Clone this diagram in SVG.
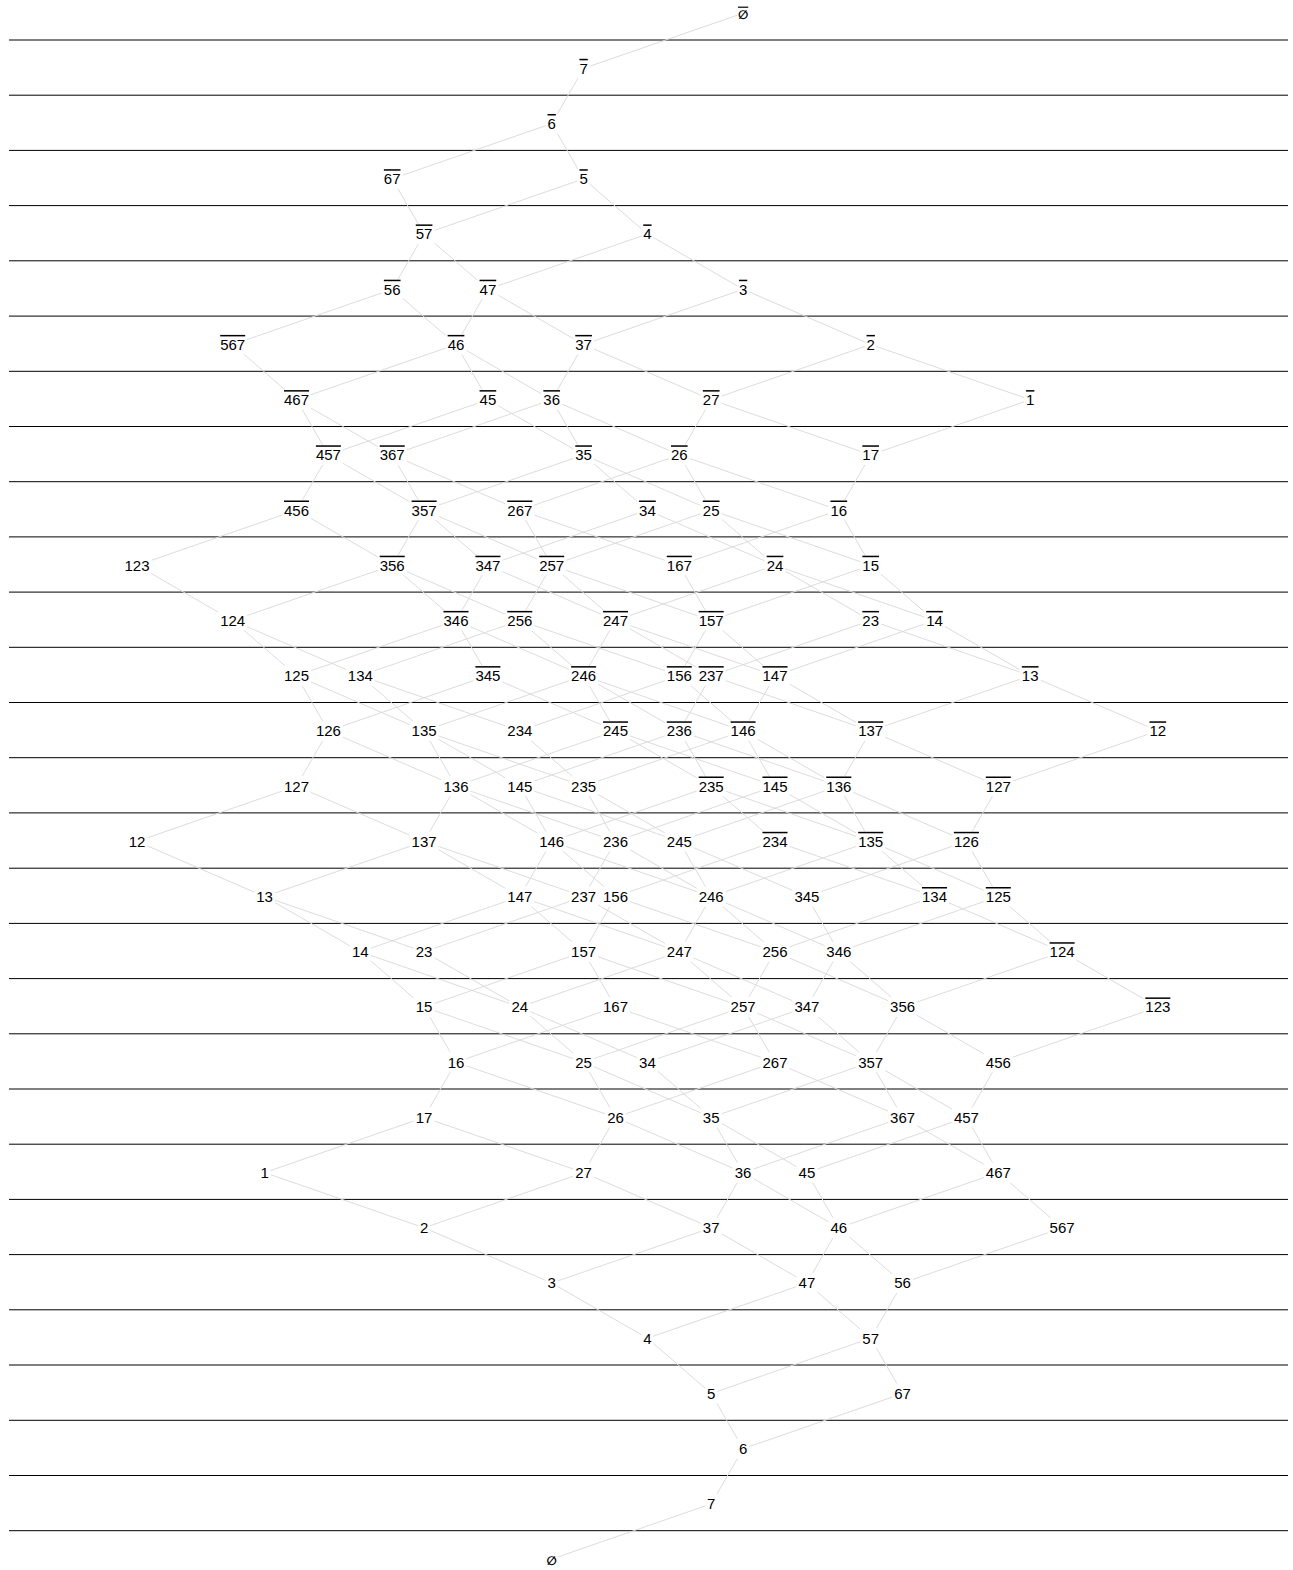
<svg xmlns="http://www.w3.org/2000/svg" width="1293" height="1570" viewBox="0 0 1293 1570">
<style>
.sep{stroke:#000;stroke-width:1;fill:none}
.e path{stroke:#dcdcdc;stroke-width:1;fill:none}
.n rect{fill:#fff}
.n text{font-family:"Liberation Sans",Arial,sans-serif;font-size:15px;text-anchor:middle;fill:#000}
.b text{text-decoration:overline}
.n text.z{font-family:"DejaVu Sans",sans-serif;font-size:12px;font-weight:bold}
</style>
<rect width="1293" height="1570" fill="#fff"/>
<g id="rows">
<path class="sep" d="M9 40H1288M9 95.2H1288M9 150.4H1288M9 205.6H1288M9 260.8H1288M9 316.1H1288M9 371.3H1288M9 426.5H1288M9 481.7H1288M9 536.9H1288M9 592.1H1288M9 647.3H1288M9 702.5H1288M9 757.7H1288M9 812.9H1288M9 868.2H1288M9 923.4H1288M9 978.6H1288M9 1033.8H1288M9 1089H1288M9 1144.2H1288M9 1199.4H1288M9 1254.6H1288M9 1309.8H1288M9 1365H1288M9 1420.3H1288M9 1475.5H1288M9 1530.7H1288"/>
</g>
<g id="connectors" class="e">
<path d="M551.7 1559.1L711.2 1503.9"/>
<path d="M711.2 1503.9L743.1 1448.7"/>
<path d="M743.1 1448.7L711.2 1393.5"/>
<path d="M743.1 1448.7L902.6 1393.5"/>
<path d="M711.2 1393.5L647.4 1338.2"/>
<path d="M711.2 1393.5L870.7 1338.2"/>
<path d="M902.6 1393.5L870.7 1338.2"/>
<path d="M647.4 1338.2L551.7 1283"/>
<path d="M647.4 1338.2L806.9 1283"/>
<path d="M870.7 1338.2L806.9 1283"/>
<path d="M870.7 1338.2L902.6 1283"/>
<path d="M551.7 1283L424.1 1227.8"/>
<path d="M551.7 1283L711.2 1227.8"/>
<path d="M806.9 1283L711.2 1227.8"/>
<path d="M806.9 1283L838.8 1227.8"/>
<path d="M902.6 1283L838.8 1227.8"/>
<path d="M902.6 1283L1062.1 1227.8"/>
<path d="M424.1 1227.8L264.6 1172.6"/>
<path d="M424.1 1227.8L583.6 1172.6"/>
<path d="M711.2 1227.8L583.6 1172.6"/>
<path d="M711.2 1227.8L743.1 1172.6"/>
<path d="M838.8 1227.8L743.1 1172.6"/>
<path d="M838.8 1227.8L806.9 1172.6"/>
<path d="M838.8 1227.8L998.3 1172.6"/>
<path d="M1062.1 1227.8L998.3 1172.6"/>
<path d="M264.6 1172.6L424.1 1117.4"/>
<path d="M583.6 1172.6L424.1 1117.4"/>
<path d="M583.6 1172.6L615.5 1117.4"/>
<path d="M743.1 1172.6L615.5 1117.4"/>
<path d="M743.1 1172.6L711.2 1117.4"/>
<path d="M743.1 1172.6L902.6 1117.4"/>
<path d="M806.9 1172.6L711.2 1117.4"/>
<path d="M806.9 1172.6L966.4 1117.4"/>
<path d="M998.3 1172.6L902.6 1117.4"/>
<path d="M998.3 1172.6L966.4 1117.4"/>
<path d="M424.1 1117.4L456 1062.2"/>
<path d="M615.5 1117.4L456 1062.2"/>
<path d="M615.5 1117.4L583.6 1062.2"/>
<path d="M615.5 1117.4L775 1062.2"/>
<path d="M711.2 1117.4L583.6 1062.2"/>
<path d="M711.2 1117.4L647.4 1062.2"/>
<path d="M711.2 1117.4L870.7 1062.2"/>
<path d="M902.6 1117.4L775 1062.2"/>
<path d="M902.6 1117.4L870.7 1062.2"/>
<path d="M966.4 1117.4L870.7 1062.2"/>
<path d="M966.4 1117.4L998.3 1062.2"/>
<path d="M456 1062.2L424.1 1007"/>
<path d="M456 1062.2L615.5 1007"/>
<path d="M583.6 1062.2L424.1 1007"/>
<path d="M583.6 1062.2L519.8 1007"/>
<path d="M583.6 1062.2L743.1 1007"/>
<path d="M647.4 1062.2L519.8 1007"/>
<path d="M647.4 1062.2L806.9 1007"/>
<path d="M775 1062.2L615.5 1007"/>
<path d="M775 1062.2L743.1 1007"/>
<path d="M870.7 1062.2L743.1 1007"/>
<path d="M870.7 1062.2L806.9 1007"/>
<path d="M870.7 1062.2L902.6 1007"/>
<path d="M998.3 1062.2L902.6 1007"/>
<path d="M424.1 1007L360.3 951.8"/>
<path d="M424.1 1007L583.6 951.8"/>
<path d="M519.8 1007L360.3 951.8"/>
<path d="M519.8 1007L424.1 951.8"/>
<path d="M519.8 1007L679.3 951.8"/>
<path d="M615.5 1007L583.6 951.8"/>
<path d="M743.1 1007L583.6 951.8"/>
<path d="M743.1 1007L679.3 951.8"/>
<path d="M743.1 1007L775 951.8"/>
<path d="M806.9 1007L679.3 951.8"/>
<path d="M806.9 1007L838.8 951.8"/>
<path d="M902.6 1007L775 951.8"/>
<path d="M902.6 1007L838.8 951.8"/>
<path d="M360.3 951.8L264.6 896.6"/>
<path d="M360.3 951.8L519.8 896.6"/>
<path d="M424.1 951.8L264.6 896.6"/>
<path d="M424.1 951.8L583.6 896.6"/>
<path d="M583.6 951.8L519.8 896.6"/>
<path d="M583.6 951.8L615.5 896.6"/>
<path d="M679.3 951.8L519.8 896.6"/>
<path d="M679.3 951.8L583.6 896.6"/>
<path d="M679.3 951.8L711.2 896.6"/>
<path d="M775 951.8L615.5 896.6"/>
<path d="M775 951.8L711.2 896.6"/>
<path d="M838.8 951.8L711.2 896.6"/>
<path d="M838.8 951.8L806.9 896.6"/>
<path d="M264.6 896.6L137 841.4"/>
<path d="M264.6 896.6L424.1 841.4"/>
<path d="M519.8 896.6L424.1 841.4"/>
<path d="M519.8 896.6L551.7 841.4"/>
<path d="M583.6 896.6L424.1 841.4"/>
<path d="M583.6 896.6L615.5 841.4"/>
<path d="M615.5 896.6L551.7 841.4"/>
<path d="M711.2 896.6L551.7 841.4"/>
<path d="M711.2 896.6L615.5 841.4"/>
<path d="M711.2 896.6L679.3 841.4"/>
<path d="M806.9 896.6L679.3 841.4"/>
<path d="M137 841.4L296.5 786.1"/>
<path d="M424.1 841.4L296.5 786.1"/>
<path d="M424.1 841.4L456 786.1"/>
<path d="M551.7 841.4L456 786.1"/>
<path d="M551.7 841.4L519.8 786.1"/>
<path d="M615.5 841.4L456 786.1"/>
<path d="M615.5 841.4L583.6 786.1"/>
<path d="M679.3 841.4L519.8 786.1"/>
<path d="M679.3 841.4L583.6 786.1"/>
<path d="M296.5 786.1L328.4 730.9"/>
<path d="M456 786.1L328.4 730.9"/>
<path d="M456 786.1L424.1 730.9"/>
<path d="M519.8 786.1L424.1 730.9"/>
<path d="M583.6 786.1L424.1 730.9"/>
<path d="M583.6 786.1L519.8 730.9"/>
<path d="M328.4 730.9L296.5 675.7"/>
<path d="M424.1 730.9L296.5 675.7"/>
<path d="M424.1 730.9L360.3 675.7"/>
<path d="M519.8 730.9L360.3 675.7"/>
<path d="M296.5 675.7L232.7 620.5"/>
<path d="M360.3 675.7L232.7 620.5"/>
<path d="M232.7 620.5L137 565.3"/>
<path d="M998.3 1062.2L1157.8 1007"/>
<path d="M902.6 1007L1062.1 951.8"/>
<path d="M775 951.8L934.5 896.6"/>
<path d="M838.8 951.8L998.3 896.6"/>
<path d="M615.5 896.6L775 841.4"/>
<path d="M711.2 896.6L870.7 841.4"/>
<path d="M806.9 896.6L966.4 841.4"/>
<path d="M551.7 841.4L711.2 786.1"/>
<path d="M615.5 841.4L775 786.1"/>
<path d="M679.3 841.4L838.8 786.1"/>
<path d="M456 786.1L615.5 730.9"/>
<path d="M519.8 786.1L679.3 730.9"/>
<path d="M583.6 786.1L743.1 730.9"/>
<path d="M328.4 730.9L487.9 675.7"/>
<path d="M424.1 730.9L583.6 675.7"/>
<path d="M519.8 730.9L679.3 675.7"/>
<path d="M296.5 675.7L456 620.5"/>
<path d="M360.3 675.7L519.8 620.5"/>
<path d="M232.7 620.5L392.2 565.3"/>
<path d="M137 565.3L296.5 510.1"/>
<path d="M743.1 13.2L583.6 68.4"/>
<path d="M583.6 68.4L551.7 123.6"/>
<path d="M551.7 123.6L583.6 178.8"/>
<path d="M551.7 123.6L392.2 178.8"/>
<path d="M583.6 178.8L647.4 234"/>
<path d="M583.6 178.8L424.1 234"/>
<path d="M392.2 178.8L424.1 234"/>
<path d="M647.4 234L743.1 289.3"/>
<path d="M647.4 234L487.9 289.3"/>
<path d="M424.1 234L487.9 289.3"/>
<path d="M424.1 234L392.2 289.3"/>
<path d="M743.1 289.3L870.7 344.5"/>
<path d="M743.1 289.3L583.6 344.5"/>
<path d="M487.9 289.3L583.6 344.5"/>
<path d="M487.9 289.3L456 344.5"/>
<path d="M392.2 289.3L456 344.5"/>
<path d="M392.2 289.3L232.7 344.5"/>
<path d="M870.7 344.5L1030.2 399.7"/>
<path d="M870.7 344.5L711.2 399.7"/>
<path d="M583.6 344.5L711.2 399.7"/>
<path d="M583.6 344.5L551.7 399.7"/>
<path d="M456 344.5L551.7 399.7"/>
<path d="M456 344.5L487.9 399.7"/>
<path d="M456 344.5L296.5 399.7"/>
<path d="M232.7 344.5L296.5 399.7"/>
<path d="M1030.2 399.7L870.7 454.9"/>
<path d="M711.2 399.7L870.7 454.9"/>
<path d="M711.2 399.7L679.3 454.9"/>
<path d="M551.7 399.7L679.3 454.9"/>
<path d="M551.7 399.7L583.6 454.9"/>
<path d="M551.7 399.7L392.2 454.9"/>
<path d="M487.9 399.7L583.6 454.9"/>
<path d="M487.9 399.7L328.4 454.9"/>
<path d="M296.5 399.7L392.2 454.9"/>
<path d="M296.5 399.7L328.4 454.9"/>
<path d="M870.7 454.9L838.8 510.1"/>
<path d="M679.3 454.9L838.8 510.1"/>
<path d="M679.3 454.9L711.2 510.1"/>
<path d="M679.3 454.9L519.8 510.1"/>
<path d="M583.6 454.9L711.2 510.1"/>
<path d="M583.6 454.9L647.4 510.1"/>
<path d="M583.6 454.9L424.1 510.1"/>
<path d="M392.2 454.9L519.8 510.1"/>
<path d="M392.2 454.9L424.1 510.1"/>
<path d="M328.4 454.9L424.1 510.1"/>
<path d="M328.4 454.9L296.5 510.1"/>
<path d="M838.8 510.1L870.7 565.3"/>
<path d="M838.8 510.1L679.3 565.3"/>
<path d="M711.2 510.1L870.7 565.3"/>
<path d="M711.2 510.1L775 565.3"/>
<path d="M711.2 510.1L551.7 565.3"/>
<path d="M647.4 510.1L775 565.3"/>
<path d="M647.4 510.1L487.9 565.3"/>
<path d="M519.8 510.1L679.3 565.3"/>
<path d="M519.8 510.1L551.7 565.3"/>
<path d="M424.1 510.1L551.7 565.3"/>
<path d="M424.1 510.1L487.9 565.3"/>
<path d="M424.1 510.1L392.2 565.3"/>
<path d="M296.5 510.1L392.2 565.3"/>
<path d="M870.7 565.3L934.5 620.5"/>
<path d="M870.7 565.3L711.2 620.5"/>
<path d="M775 565.3L934.5 620.5"/>
<path d="M775 565.3L870.7 620.5"/>
<path d="M775 565.3L615.5 620.5"/>
<path d="M679.3 565.3L711.2 620.5"/>
<path d="M551.7 565.3L711.2 620.5"/>
<path d="M551.7 565.3L615.5 620.5"/>
<path d="M551.7 565.3L519.8 620.5"/>
<path d="M487.9 565.3L615.5 620.5"/>
<path d="M487.9 565.3L456 620.5"/>
<path d="M392.2 565.3L519.8 620.5"/>
<path d="M392.2 565.3L456 620.5"/>
<path d="M934.5 620.5L1030.2 675.7"/>
<path d="M934.5 620.5L775 675.7"/>
<path d="M870.7 620.5L1030.2 675.7"/>
<path d="M870.7 620.5L711.2 675.7"/>
<path d="M711.2 620.5L775 675.7"/>
<path d="M711.2 620.5L679.3 675.7"/>
<path d="M615.5 620.5L775 675.7"/>
<path d="M615.5 620.5L711.2 675.7"/>
<path d="M615.5 620.5L583.6 675.7"/>
<path d="M519.8 620.5L679.3 675.7"/>
<path d="M519.8 620.5L583.6 675.7"/>
<path d="M456 620.5L583.6 675.7"/>
<path d="M456 620.5L487.9 675.7"/>
<path d="M1030.2 675.7L1157.8 730.9"/>
<path d="M1030.2 675.7L870.7 730.9"/>
<path d="M775 675.7L870.7 730.9"/>
<path d="M775 675.7L743.1 730.9"/>
<path d="M711.2 675.7L870.7 730.9"/>
<path d="M711.2 675.7L679.3 730.9"/>
<path d="M679.3 675.7L743.1 730.9"/>
<path d="M583.6 675.7L743.1 730.9"/>
<path d="M583.6 675.7L679.3 730.9"/>
<path d="M583.6 675.7L615.5 730.9"/>
<path d="M487.9 675.7L615.5 730.9"/>
<path d="M1157.8 730.9L998.3 786.1"/>
<path d="M870.7 730.9L998.3 786.1"/>
<path d="M870.7 730.9L838.8 786.1"/>
<path d="M743.1 730.9L838.8 786.1"/>
<path d="M743.1 730.9L775 786.1"/>
<path d="M679.3 730.9L838.8 786.1"/>
<path d="M679.3 730.9L711.2 786.1"/>
<path d="M615.5 730.9L775 786.1"/>
<path d="M615.5 730.9L711.2 786.1"/>
<path d="M998.3 786.1L966.4 841.4"/>
<path d="M838.8 786.1L966.4 841.4"/>
<path d="M838.8 786.1L870.7 841.4"/>
<path d="M775 786.1L870.7 841.4"/>
<path d="M711.2 786.1L870.7 841.4"/>
<path d="M711.2 786.1L775 841.4"/>
<path d="M966.4 841.4L998.3 896.6"/>
<path d="M870.7 841.4L998.3 896.6"/>
<path d="M870.7 841.4L934.5 896.6"/>
<path d="M775 841.4L934.5 896.6"/>
<path d="M998.3 896.6L1062.1 951.8"/>
<path d="M934.5 896.6L1062.1 951.8"/>
<path d="M1062.1 951.8L1157.8 1007"/>
</g>
<g id="nodes">
<g id="n-empty" class="n" transform="translate(551.7 1559.1)"><rect x="-6" y="-10" width="12" height="20"/><text class="z" y="5.4">∅</text></g>
<g id="n-7" class="n" transform="translate(711.2 1503.9)"><rect x="-6" y="-10" width="12" height="20"/><text y="5.4">7</text></g>
<g id="n-6" class="n" transform="translate(743.1 1448.7)"><rect x="-6" y="-10" width="12" height="20"/><text y="5.4">6</text></g>
<g id="n-5" class="n" transform="translate(711.2 1393.5)"><rect x="-6" y="-10" width="12" height="20"/><text y="5.4">5</text></g>
<g id="n-67" class="n" transform="translate(902.6 1393.5)"><rect x="-10.5" y="-10" width="21" height="20"/><text y="5.4">67</text></g>
<g id="n-4" class="n" transform="translate(647.4 1338.2)"><rect x="-6" y="-10" width="12" height="20"/><text y="5.4">4</text></g>
<g id="n-57" class="n" transform="translate(870.7 1338.2)"><rect x="-10.5" y="-10" width="21" height="20"/><text y="5.4">57</text></g>
<g id="n-3" class="n" transform="translate(551.7 1283)"><rect x="-6" y="-10" width="12" height="20"/><text y="5.4">3</text></g>
<g id="n-47" class="n" transform="translate(806.9 1283)"><rect x="-10.5" y="-10" width="21" height="20"/><text y="5.4">47</text></g>
<g id="n-56" class="n" transform="translate(902.6 1283)"><rect x="-10.5" y="-10" width="21" height="20"/><text y="5.4">56</text></g>
<g id="n-2" class="n" transform="translate(424.1 1227.8)"><rect x="-6" y="-10" width="12" height="20"/><text y="5.4">2</text></g>
<g id="n-37" class="n" transform="translate(711.2 1227.8)"><rect x="-10.5" y="-10" width="21" height="20"/><text y="5.4">37</text></g>
<g id="n-46" class="n" transform="translate(838.8 1227.8)"><rect x="-10.5" y="-10" width="21" height="20"/><text y="5.4">46</text></g>
<g id="n-567" class="n" transform="translate(1062.1 1227.8)"><rect x="-14.5" y="-10" width="29" height="20"/><text y="5.4">567</text></g>
<g id="n-1" class="n" transform="translate(264.6 1172.6)"><rect x="-6" y="-10" width="12" height="20"/><text y="5.4">1</text></g>
<g id="n-27" class="n" transform="translate(583.6 1172.6)"><rect x="-10.5" y="-10" width="21" height="20"/><text y="5.4">27</text></g>
<g id="n-36" class="n" transform="translate(743.1 1172.6)"><rect x="-10.5" y="-10" width="21" height="20"/><text y="5.4">36</text></g>
<g id="n-45" class="n" transform="translate(806.9 1172.6)"><rect x="-10.5" y="-10" width="21" height="20"/><text y="5.4">45</text></g>
<g id="n-467" class="n" transform="translate(998.3 1172.6)"><rect x="-14.5" y="-10" width="29" height="20"/><text y="5.4">467</text></g>
<g id="n-17" class="n" transform="translate(424.1 1117.4)"><rect x="-10.5" y="-10" width="21" height="20"/><text y="5.4">17</text></g>
<g id="n-26" class="n" transform="translate(615.5 1117.4)"><rect x="-10.5" y="-10" width="21" height="20"/><text y="5.4">26</text></g>
<g id="n-35" class="n" transform="translate(711.2 1117.4)"><rect x="-10.5" y="-10" width="21" height="20"/><text y="5.4">35</text></g>
<g id="n-367" class="n" transform="translate(902.6 1117.4)"><rect x="-14.5" y="-10" width="29" height="20"/><text y="5.4">367</text></g>
<g id="n-457" class="n" transform="translate(966.4 1117.4)"><rect x="-14.5" y="-10" width="29" height="20"/><text y="5.4">457</text></g>
<g id="n-16" class="n" transform="translate(456 1062.2)"><rect x="-10.5" y="-10" width="21" height="20"/><text y="5.4">16</text></g>
<g id="n-25" class="n" transform="translate(583.6 1062.2)"><rect x="-10.5" y="-10" width="21" height="20"/><text y="5.4">25</text></g>
<g id="n-34" class="n" transform="translate(647.4 1062.2)"><rect x="-10.5" y="-10" width="21" height="20"/><text y="5.4">34</text></g>
<g id="n-267" class="n" transform="translate(775 1062.2)"><rect x="-14.5" y="-10" width="29" height="20"/><text y="5.4">267</text></g>
<g id="n-357" class="n" transform="translate(870.7 1062.2)"><rect x="-14.5" y="-10" width="29" height="20"/><text y="5.4">357</text></g>
<g id="n-456" class="n" transform="translate(998.3 1062.2)"><rect x="-14.5" y="-10" width="29" height="20"/><text y="5.4">456</text></g>
<g id="n-15" class="n" transform="translate(424.1 1007)"><rect x="-10.5" y="-10" width="21" height="20"/><text y="5.4">15</text></g>
<g id="n-24" class="n" transform="translate(519.8 1007)"><rect x="-10.5" y="-10" width="21" height="20"/><text y="5.4">24</text></g>
<g id="n-167" class="n" transform="translate(615.5 1007)"><rect x="-14.5" y="-10" width="29" height="20"/><text y="5.4">167</text></g>
<g id="n-257" class="n" transform="translate(743.1 1007)"><rect x="-14.5" y="-10" width="29" height="20"/><text y="5.4">257</text></g>
<g id="n-347" class="n" transform="translate(806.9 1007)"><rect x="-14.5" y="-10" width="29" height="20"/><text y="5.4">347</text></g>
<g id="n-356" class="n" transform="translate(902.6 1007)"><rect x="-14.5" y="-10" width="29" height="20"/><text y="5.4">356</text></g>
<g id="n-14" class="n" transform="translate(360.3 951.8)"><rect x="-10.5" y="-10" width="21" height="20"/><text y="5.4">14</text></g>
<g id="n-23" class="n" transform="translate(424.1 951.8)"><rect x="-10.5" y="-10" width="21" height="20"/><text y="5.4">23</text></g>
<g id="n-157" class="n" transform="translate(583.6 951.8)"><rect x="-14.5" y="-10" width="29" height="20"/><text y="5.4">157</text></g>
<g id="n-247" class="n" transform="translate(679.3 951.8)"><rect x="-14.5" y="-10" width="29" height="20"/><text y="5.4">247</text></g>
<g id="n-256" class="n" transform="translate(775 951.8)"><rect x="-14.5" y="-10" width="29" height="20"/><text y="5.4">256</text></g>
<g id="n-346" class="n" transform="translate(838.8 951.8)"><rect x="-14.5" y="-10" width="29" height="20"/><text y="5.4">346</text></g>
<g id="n-13" class="n" transform="translate(264.6 896.6)"><rect x="-10.5" y="-10" width="21" height="20"/><text y="5.4">13</text></g>
<g id="n-147" class="n" transform="translate(519.8 896.6)"><rect x="-14.5" y="-10" width="29" height="20"/><text y="5.4">147</text></g>
<g id="n-237" class="n" transform="translate(583.6 896.6)"><rect x="-14.5" y="-10" width="29" height="20"/><text y="5.4">237</text></g>
<g id="n-156" class="n" transform="translate(615.5 896.6)"><rect x="-14.5" y="-10" width="29" height="20"/><text y="5.4">156</text></g>
<g id="n-246" class="n" transform="translate(711.2 896.6)"><rect x="-14.5" y="-10" width="29" height="20"/><text y="5.4">246</text></g>
<g id="n-345" class="n" transform="translate(806.9 896.6)"><rect x="-14.5" y="-10" width="29" height="20"/><text y="5.4">345</text></g>
<g id="n-12" class="n" transform="translate(137 841.4)"><rect x="-10.5" y="-10" width="21" height="20"/><text y="5.4">12</text></g>
<g id="n-137" class="n" transform="translate(424.1 841.4)"><rect x="-14.5" y="-10" width="29" height="20"/><text y="5.4">137</text></g>
<g id="n-146" class="n" transform="translate(551.7 841.4)"><rect x="-14.5" y="-10" width="29" height="20"/><text y="5.4">146</text></g>
<g id="n-236" class="n" transform="translate(615.5 841.4)"><rect x="-14.5" y="-10" width="29" height="20"/><text y="5.4">236</text></g>
<g id="n-245" class="n" transform="translate(679.3 841.4)"><rect x="-14.5" y="-10" width="29" height="20"/><text y="5.4">245</text></g>
<g id="n-127" class="n" transform="translate(296.5 786.1)"><rect x="-14.5" y="-10" width="29" height="20"/><text y="5.4">127</text></g>
<g id="n-136" class="n" transform="translate(456 786.1)"><rect x="-14.5" y="-10" width="29" height="20"/><text y="5.4">136</text></g>
<g id="n-145" class="n" transform="translate(519.8 786.1)"><rect x="-14.5" y="-10" width="29" height="20"/><text y="5.4">145</text></g>
<g id="n-235" class="n" transform="translate(583.6 786.1)"><rect x="-14.5" y="-10" width="29" height="20"/><text y="5.4">235</text></g>
<g id="n-126" class="n" transform="translate(328.4 730.9)"><rect x="-14.5" y="-10" width="29" height="20"/><text y="5.4">126</text></g>
<g id="n-135" class="n" transform="translate(424.1 730.9)"><rect x="-14.5" y="-10" width="29" height="20"/><text y="5.4">135</text></g>
<g id="n-234" class="n" transform="translate(519.8 730.9)"><rect x="-14.5" y="-10" width="29" height="20"/><text y="5.4">234</text></g>
<g id="n-125" class="n" transform="translate(296.5 675.7)"><rect x="-14.5" y="-10" width="29" height="20"/><text y="5.4">125</text></g>
<g id="n-134" class="n" transform="translate(360.3 675.7)"><rect x="-14.5" y="-10" width="29" height="20"/><text y="5.4">134</text></g>
<g id="n-124" class="n" transform="translate(232.7 620.5)"><rect x="-14.5" y="-10" width="29" height="20"/><text y="5.4">124</text></g>
<g id="n-123" class="n" transform="translate(137 565.3)"><rect x="-14.5" y="-10" width="29" height="20"/><text y="5.4">123</text></g>
<g id="n-empty-bar" class="n b" transform="translate(743.1 13.2)"><rect x="-6" y="-10" width="12" height="20"/><text class="z" y="5.4">∅</text></g>
<g id="n-7-bar" class="n b" transform="translate(583.6 68.4)"><rect x="-6" y="-10" width="12" height="20"/><text y="5.4">7</text></g>
<g id="n-6-bar" class="n b" transform="translate(551.7 123.6)"><rect x="-6" y="-10" width="12" height="20"/><text y="5.4">6</text></g>
<g id="n-5-bar" class="n b" transform="translate(583.6 178.8)"><rect x="-6" y="-10" width="12" height="20"/><text y="5.4">5</text></g>
<g id="n-67-bar" class="n b" transform="translate(392.2 178.8)"><rect x="-10.5" y="-10" width="21" height="20"/><text y="5.4">67</text></g>
<g id="n-4-bar" class="n b" transform="translate(647.4 234)"><rect x="-6" y="-10" width="12" height="20"/><text y="5.4">4</text></g>
<g id="n-57-bar" class="n b" transform="translate(424.1 234)"><rect x="-10.5" y="-10" width="21" height="20"/><text y="5.4">57</text></g>
<g id="n-3-bar" class="n b" transform="translate(743.1 289.3)"><rect x="-6" y="-10" width="12" height="20"/><text y="5.4">3</text></g>
<g id="n-47-bar" class="n b" transform="translate(487.9 289.3)"><rect x="-10.5" y="-10" width="21" height="20"/><text y="5.4">47</text></g>
<g id="n-56-bar" class="n b" transform="translate(392.2 289.3)"><rect x="-10.5" y="-10" width="21" height="20"/><text y="5.4">56</text></g>
<g id="n-2-bar" class="n b" transform="translate(870.7 344.5)"><rect x="-6" y="-10" width="12" height="20"/><text y="5.4">2</text></g>
<g id="n-37-bar" class="n b" transform="translate(583.6 344.5)"><rect x="-10.5" y="-10" width="21" height="20"/><text y="5.4">37</text></g>
<g id="n-46-bar" class="n b" transform="translate(456 344.5)"><rect x="-10.5" y="-10" width="21" height="20"/><text y="5.4">46</text></g>
<g id="n-567-bar" class="n b" transform="translate(232.7 344.5)"><rect x="-14.5" y="-10" width="29" height="20"/><text y="5.4">567</text></g>
<g id="n-1-bar" class="n b" transform="translate(1030.2 399.7)"><rect x="-6" y="-10" width="12" height="20"/><text y="5.4">1</text></g>
<g id="n-27-bar" class="n b" transform="translate(711.2 399.7)"><rect x="-10.5" y="-10" width="21" height="20"/><text y="5.4">27</text></g>
<g id="n-36-bar" class="n b" transform="translate(551.7 399.7)"><rect x="-10.5" y="-10" width="21" height="20"/><text y="5.4">36</text></g>
<g id="n-45-bar" class="n b" transform="translate(487.9 399.7)"><rect x="-10.5" y="-10" width="21" height="20"/><text y="5.4">45</text></g>
<g id="n-467-bar" class="n b" transform="translate(296.5 399.7)"><rect x="-14.5" y="-10" width="29" height="20"/><text y="5.4">467</text></g>
<g id="n-17-bar" class="n b" transform="translate(870.7 454.9)"><rect x="-10.5" y="-10" width="21" height="20"/><text y="5.4">17</text></g>
<g id="n-26-bar" class="n b" transform="translate(679.3 454.9)"><rect x="-10.5" y="-10" width="21" height="20"/><text y="5.4">26</text></g>
<g id="n-35-bar" class="n b" transform="translate(583.6 454.9)"><rect x="-10.5" y="-10" width="21" height="20"/><text y="5.4">35</text></g>
<g id="n-367-bar" class="n b" transform="translate(392.2 454.9)"><rect x="-14.5" y="-10" width="29" height="20"/><text y="5.4">367</text></g>
<g id="n-457-bar" class="n b" transform="translate(328.4 454.9)"><rect x="-14.5" y="-10" width="29" height="20"/><text y="5.4">457</text></g>
<g id="n-16-bar" class="n b" transform="translate(838.8 510.1)"><rect x="-10.5" y="-10" width="21" height="20"/><text y="5.4">16</text></g>
<g id="n-25-bar" class="n b" transform="translate(711.2 510.1)"><rect x="-10.5" y="-10" width="21" height="20"/><text y="5.4">25</text></g>
<g id="n-34-bar" class="n b" transform="translate(647.4 510.1)"><rect x="-10.5" y="-10" width="21" height="20"/><text y="5.4">34</text></g>
<g id="n-267-bar" class="n b" transform="translate(519.8 510.1)"><rect x="-14.5" y="-10" width="29" height="20"/><text y="5.4">267</text></g>
<g id="n-357-bar" class="n b" transform="translate(424.1 510.1)"><rect x="-14.5" y="-10" width="29" height="20"/><text y="5.4">357</text></g>
<g id="n-456-bar" class="n b" transform="translate(296.5 510.1)"><rect x="-14.5" y="-10" width="29" height="20"/><text y="5.4">456</text></g>
<g id="n-15-bar" class="n b" transform="translate(870.7 565.3)"><rect x="-10.5" y="-10" width="21" height="20"/><text y="5.4">15</text></g>
<g id="n-24-bar" class="n b" transform="translate(775 565.3)"><rect x="-10.5" y="-10" width="21" height="20"/><text y="5.4">24</text></g>
<g id="n-167-bar" class="n b" transform="translate(679.3 565.3)"><rect x="-14.5" y="-10" width="29" height="20"/><text y="5.4">167</text></g>
<g id="n-257-bar" class="n b" transform="translate(551.7 565.3)"><rect x="-14.5" y="-10" width="29" height="20"/><text y="5.4">257</text></g>
<g id="n-347-bar" class="n b" transform="translate(487.9 565.3)"><rect x="-14.5" y="-10" width="29" height="20"/><text y="5.4">347</text></g>
<g id="n-356-bar" class="n b" transform="translate(392.2 565.3)"><rect x="-14.5" y="-10" width="29" height="20"/><text y="5.4">356</text></g>
<g id="n-14-bar" class="n b" transform="translate(934.5 620.5)"><rect x="-10.5" y="-10" width="21" height="20"/><text y="5.4">14</text></g>
<g id="n-23-bar" class="n b" transform="translate(870.7 620.5)"><rect x="-10.5" y="-10" width="21" height="20"/><text y="5.4">23</text></g>
<g id="n-157-bar" class="n b" transform="translate(711.2 620.5)"><rect x="-14.5" y="-10" width="29" height="20"/><text y="5.4">157</text></g>
<g id="n-247-bar" class="n b" transform="translate(615.5 620.5)"><rect x="-14.5" y="-10" width="29" height="20"/><text y="5.4">247</text></g>
<g id="n-256-bar" class="n b" transform="translate(519.8 620.5)"><rect x="-14.5" y="-10" width="29" height="20"/><text y="5.4">256</text></g>
<g id="n-346-bar" class="n b" transform="translate(456 620.5)"><rect x="-14.5" y="-10" width="29" height="20"/><text y="5.4">346</text></g>
<g id="n-13-bar" class="n b" transform="translate(1030.2 675.7)"><rect x="-10.5" y="-10" width="21" height="20"/><text y="5.4">13</text></g>
<g id="n-147-bar" class="n b" transform="translate(775 675.7)"><rect x="-14.5" y="-10" width="29" height="20"/><text y="5.4">147</text></g>
<g id="n-237-bar" class="n b" transform="translate(711.2 675.7)"><rect x="-14.5" y="-10" width="29" height="20"/><text y="5.4">237</text></g>
<g id="n-156-bar" class="n b" transform="translate(679.3 675.7)"><rect x="-14.5" y="-10" width="29" height="20"/><text y="5.4">156</text></g>
<g id="n-246-bar" class="n b" transform="translate(583.6 675.7)"><rect x="-14.5" y="-10" width="29" height="20"/><text y="5.4">246</text></g>
<g id="n-345-bar" class="n b" transform="translate(487.9 675.7)"><rect x="-14.5" y="-10" width="29" height="20"/><text y="5.4">345</text></g>
<g id="n-12-bar" class="n b" transform="translate(1157.8 730.9)"><rect x="-10.5" y="-10" width="21" height="20"/><text y="5.4">12</text></g>
<g id="n-137-bar" class="n b" transform="translate(870.7 730.9)"><rect x="-14.5" y="-10" width="29" height="20"/><text y="5.4">137</text></g>
<g id="n-146-bar" class="n b" transform="translate(743.1 730.9)"><rect x="-14.5" y="-10" width="29" height="20"/><text y="5.4">146</text></g>
<g id="n-236-bar" class="n b" transform="translate(679.3 730.9)"><rect x="-14.5" y="-10" width="29" height="20"/><text y="5.4">236</text></g>
<g id="n-245-bar" class="n b" transform="translate(615.5 730.9)"><rect x="-14.5" y="-10" width="29" height="20"/><text y="5.4">245</text></g>
<g id="n-127-bar" class="n b" transform="translate(998.3 786.1)"><rect x="-14.5" y="-10" width="29" height="20"/><text y="5.4">127</text></g>
<g id="n-136-bar" class="n b" transform="translate(838.8 786.1)"><rect x="-14.5" y="-10" width="29" height="20"/><text y="5.4">136</text></g>
<g id="n-145-bar" class="n b" transform="translate(775 786.1)"><rect x="-14.5" y="-10" width="29" height="20"/><text y="5.4">145</text></g>
<g id="n-235-bar" class="n b" transform="translate(711.2 786.1)"><rect x="-14.5" y="-10" width="29" height="20"/><text y="5.4">235</text></g>
<g id="n-126-bar" class="n b" transform="translate(966.4 841.4)"><rect x="-14.5" y="-10" width="29" height="20"/><text y="5.4">126</text></g>
<g id="n-135-bar" class="n b" transform="translate(870.7 841.4)"><rect x="-14.5" y="-10" width="29" height="20"/><text y="5.4">135</text></g>
<g id="n-234-bar" class="n b" transform="translate(775 841.4)"><rect x="-14.5" y="-10" width="29" height="20"/><text y="5.4">234</text></g>
<g id="n-125-bar" class="n b" transform="translate(998.3 896.6)"><rect x="-14.5" y="-10" width="29" height="20"/><text y="5.4">125</text></g>
<g id="n-134-bar" class="n b" transform="translate(934.5 896.6)"><rect x="-14.5" y="-10" width="29" height="20"/><text y="5.4">134</text></g>
<g id="n-124-bar" class="n b" transform="translate(1062.1 951.8)"><rect x="-14.5" y="-10" width="29" height="20"/><text y="5.4">124</text></g>
<g id="n-123-bar" class="n b" transform="translate(1157.8 1007)"><rect x="-14.5" y="-10" width="29" height="20"/><text y="5.4">123</text></g>
</g>
</svg>
